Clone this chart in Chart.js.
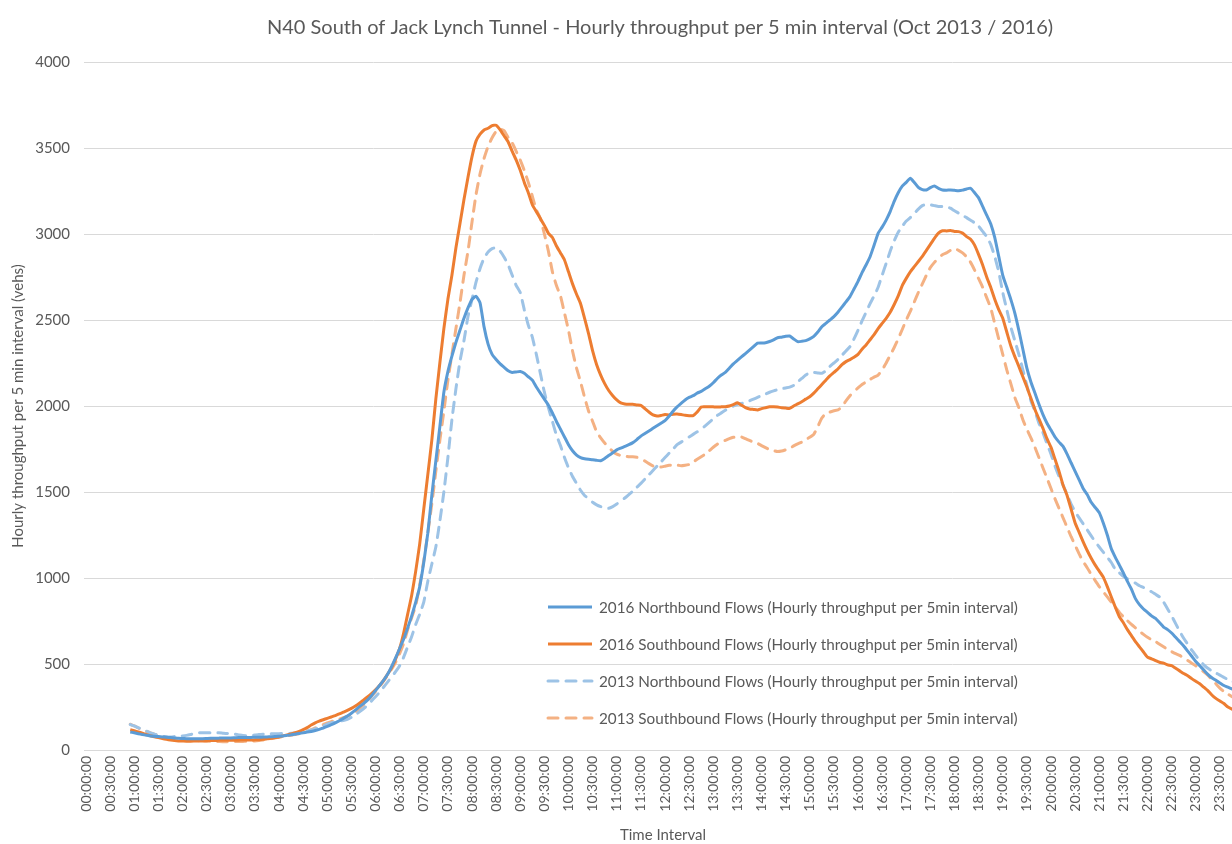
<!DOCTYPE html>
<html>
<head>
<meta charset="utf-8">
<script src="https://cdn.jsdelivr.net/npm/chart.js@4.4.1/dist/chart.umd.min.js"></script>
<style>
  html, body { margin: 0; padding: 0; overflow: hidden; background: #ffffff; }
  #wrap { position: relative; width: 1320px; height: 844px; }
</style>
</head>
<body>
<div id="wrap"><canvas id="c" width="1320" height="844"></canvas></div>
<script>
// ---- Data (hourly throughput per 5-min interval, vehs), 00:00 .. 23:55 ----
const timeLabels = [];
for (let m = 0; m < 24 * 60; m += 5) {
  const h = String(Math.floor(m / 60)).padStart(2, '0');
  const mm = String(m % 60).padStart(2, '0');
  timeLabels.push(h + ':' + mm + ':00');
}

const yTicks = [0, 500, 1000, 1500, 2000, 2500, 3000, 3500, 4000];

const chartTitle = 'N40 South of Jack Lynch Tunnel - Hourly throughput per 5 min interval (Oct 2013 / 2016)';

const north2016 = [
  null,null,null,null,null,null,null,null,null,null,null,105,
  100,95,90,86,82,80,78,76,74,72,70,68,
  67,66,65,65,66,66,67,68,68,69,70,70,
  70,71,72,72,73,73,74,74,75,76,77,78,
  80,82,85,88,92,96,100,104,108,113,120,128,
  137,147,158,170,184,198,214,232,252,270,290,315,
  345,375,405,440,485,535,590,645,710,780,860,950,
  1090,1260,1480,1680,1880,2080,2200,2290,2370,2440,2510,2570,
  2620,2638,2600,2460,2360,2300,2270,2245,2225,2205,2195,2198,
  2200,2190,2170,2150,2110,2075,2040,2005,1960,1910,1865,1820,
  1775,1740,1715,1700,1693,1690,1688,1684,1682,1695,1712,1728,
  1745,1755,1765,1775,1787,1805,1825,1840,1855,1870,1885,1900,
  1915,1940,1970,1995,2015,2035,2050,2060,2075,2085,2100,2115,
  2135,2160,2180,2195,2220,2245,2265,2285,2305,2325,2345,2365,
  2366,2368,2375,2385,2397,2400,2405,2407,2390,2374,2376,2380,
  2390,2405,2430,2461,2480,2500,2520,2545,2575,2605,2636,2680,
  2725,2775,2820,2868,2935,3004,3040,3081,3130,3190,3240,3278,
  3300,3324,3300,3271,3258,3256,3270,3279,3265,3256,3255,3256,
  3254,3252,3255,3262,3266,3240,3210,3160,3110,3060,2980,2870,
  2760,2690,2620,2540,2440,2330,2220,2140,2075,2010,1950,1900,
  1860,1820,1790,1765,1720,1670,1620,1570,1520,1485,1440,1410,
  1380,1320,1250,1170,1120,1075,1030,980,935,880,845,820,
  800,780,765,740,715,700,680,655,630,605,575,545,
  515,490,465,440,420,405,390,375,365,355,345,335
];

const south2016 = [
  null,null,null,null,null,null,null,null,null,null,null,118,
  112,105,98,90,83,77,72,67,62,58,55,53,
  52,51,51,52,53,54,54,55,55,56,56,56,
  57,57,57,58,58,58,59,60,62,65,68,72,
  76,82,88,94,100,108,118,130,145,158,168,176,
  184,192,200,210,220,230,242,256,272,290,308,328,
  350,375,405,440,480,530,590,680,790,900,1040,1200,
  1400,1600,1800,2040,2250,2450,2620,2760,2920,3060,3200,3330,
  3450,3540,3580,3605,3615,3630,3632,3605,3570,3535,3480,3430,
  3370,3300,3240,3170,3130,3090,3050,3004,2980,2930,2890,2849,
  2780,2710,2650,2595,2510,2420,2320,2240,2180,2130,2090,2060,
  2035,2018,2012,2010,2010,2006,2003,1985,1965,1948,1942,1945,
  1950,1948,1952,1953,1950,1946,1944,1944,1965,1994,1995,1996,
  1995,1994,1995,1996,2000,2008,2019,2005,1990,1983,1980,1977,
  1985,1990,1995,1996,1994,1990,1988,1986,2000,2012,2025,2040,
  2054,2075,2100,2125,2150,2175,2195,2215,2240,2258,2270,2283,
  2300,2330,2355,2385,2415,2450,2480,2510,2545,2590,2640,2700,
  2742,2780,2810,2840,2870,2905,2940,2975,3005,3019,3018,3020,
  3015,3014,3005,2985,2970,2935,2880,2820,2750,2690,2620,2560,
  2510,2430,2350,2287,2230,2170,2110,2045,1980,1925,1870,1810,
  1760,1690,1620,1540,1480,1400,1320,1265,1210,1160,1115,1075,
  1040,1005,950,890,830,775,740,700,665,630,600,570,
  540,530,520,510,505,495,490,475,460,445,432,415,
  400,385,365,345,320,300,285,270,250,238,228,220
];

const north2013 = [
  null,null,null,null,null,null,null,null,null,null,null,148,
  140,130,120,110,100,92,85,80,77,76,78,80,
  82,85,90,96,100,100,100,100,100,100,98,96,
  95,92,88,84,82,84,87,90,92,93,94,95,
  95,96,96,97,98,100,104,110,116,122,130,140,
  150,158,163,168,172,178,190,205,222,240,260,285,
  310,335,365,395,425,455,490,540,600,660,730,790,
  860,980,1080,1180,1330,1500,1700,1920,2100,2260,2380,2520,
  2620,2720,2800,2860,2895,2915,2920,2900,2865,2820,2760,2700,
  2660,2560,2470,2400,2300,2190,2080,1990,1910,1830,1770,1700,
  1640,1590,1550,1510,1480,1460,1440,1425,1415,1408,1405,1415,
  1430,1448,1465,1485,1505,1528,1550,1575,1600,1625,1650,1675,
  1700,1725,1750,1775,1790,1805,1820,1835,1850,1865,1885,1905,
  1925,1945,1960,1975,1990,2000,2010,2015,2020,2030,2040,2050,
  2060,2070,2080,2088,2095,2100,2105,2110,2120,2140,2160,2180,
  2194,2195,2192,2190,2205,2230,2250,2270,2295,2320,2345,2390,
  2440,2495,2545,2595,2640,2690,2760,2829,2900,2960,3010,3045,
  3075,3095,3120,3145,3165,3172,3170,3165,3160,3160,3158,3150,
  3135,3122,3108,3095,3080,3065,3045,3015,2985,2940,2870,2780,
  2660,2560,2460,2380,2300,2210,2120,2030,1970,1900,1845,1780,
  1720,1650,1590,1540,1485,1430,1385,1350,1315,1280,1245,1210,
  1180,1150,1120,1090,1050,1030,1010,995,980,970,955,945,
  930,920,905,890,860,820,780,735,690,650,615,580,
  550,520,495,475,460,448,435,422,410,400,390,380
];

const south2013 = [
  null,null,null,null,null,null,null,null,null,null,null,150,
  140,128,118,108,100,92,85,78,72,67,63,60,
  58,56,55,54,53,52,51,50,50,49,48,48,
  48,49,50,50,51,52,53,55,58,62,66,70,
  74,78,82,86,90,95,100,108,118,128,138,148,
  158,165,172,180,188,196,208,222,240,262,285,312,
  340,368,400,435,470,510,560,620,700,770,840,960,
  1100,1260,1430,1620,1800,1970,2150,2300,2450,2600,2760,2900,
  3070,3230,3350,3440,3510,3560,3597,3610,3600,3560,3530,3480,
  3430,3370,3300,3220,3140,3090,3000,2900,2780,2700,2640,2540,
  2440,2320,2220,2140,2050,1970,1910,1850,1815,1785,1760,1735,
  1720,1712,1708,1705,1705,1702,1695,1680,1665,1652,1647,1645,
  1650,1655,1657,1657,1652,1655,1660,1675,1690,1705,1720,1740,
  1760,1778,1793,1800,1810,1818,1822,1820,1810,1800,1790,1783,
  1770,1758,1747,1740,1735,1738,1745,1755,1768,1780,1790,1805,
  1818,1835,1880,1930,1957,1965,1972,1977,1995,2030,2060,2085,
  2105,2125,2140,2155,2168,2180,2210,2250,2295,2340,2390,2445,
  2500,2550,2605,2660,2710,2760,2805,2835,2860,2880,2890,2905,
  2916,2905,2890,2868,2835,2790,2740,2690,2630,2570,2480,2390,
  2300,2210,2130,2050,1990,1920,1865,1815,1760,1700,1640,1580,
  1520,1460,1405,1350,1295,1240,1190,1140,1095,1060,1020,985,
  950,920,890,860,830,800,775,752,730,710,690,672,
  655,642,630,615,600,585,572,560,550,535,520,505,
  490,472,455,435,410,385,360,340,325,310,300,290
];

const seriesNames = [
  '2016 Northbound Flows (Hourly throughput per 5min interval)',
  '2016 Southbound Flows (Hourly throughput per 5min interval)',
  '2013 Northbound Flows (Hourly throughput per 5min interval)',
  '2013 Southbound Flows (Hourly throughput per 5min interval)'
];

// ---- Styling ----
const TXT = '#595959';
const FONT = 'Lato, "Liberation Sans", sans-serif';

// Title centred over the full (uncropped) chart width
const titlePlugin = {
  id: 'wideTitle',
  afterDraw(chart) {
    const ctx = chart.ctx;
    ctx.save();
    ctx.font = '20px ' + FONT;
    ctx.fillStyle = TXT;
    ctx.textAlign = 'center';
    ctx.textBaseline = 'middle';
    ctx.fillText(chartTitle, chart.width / 2, 28);
    ctx.restore();
  }
};

const insideLegend = {
  id: 'insideLegend',
  afterDatasetsDraw(chart) {
    const ctx = chart.ctx;
    const x0 = 548, x1 = 592, tx = 599, y0 = 607, step = 37;
    ctx.save();
    ctx.font = '15.25px ' + FONT;
    ctx.fillStyle = TXT;
    ctx.textBaseline = 'middle';
    ctx.textAlign = 'left';
    chart.data.datasets.forEach((ds, k) => {
      const y = y0 + k * step;
      ctx.beginPath();
      ctx.strokeStyle = ds.borderColor;
      ctx.lineWidth = ds.borderWidth;
      ctx.setLineDash(ds.borderDash || []);
      ctx.lineCap = ds.borderCapStyle || 'butt';
      ctx.moveTo(x0, y);
      ctx.lineTo(x1, y);
      ctx.stroke();
      ctx.setLineDash([]);
      ctx.fillText(ds.label, tx, y + 1);
    });
    ctx.restore();
  }
};

function lineDs(label, data, color, dashed) {
  return {
    label, data,
    borderColor: color,
    backgroundColor: color,
    borderWidth: 3,
    borderDash: dashed ? [10, 8] : [],
    borderCapStyle: dashed ? 'round' : 'butt',
    borderJoinStyle: 'round',
    pointRadius: 0,
    tension: 0.15,
    fill: false
  };
}

new Chart(document.getElementById('c'), {
  type: 'line',
  data: {
    labels: timeLabels,
    datasets: [
      lineDs(seriesNames[0], north2016, '#5B9BD5', false),
      lineDs(seriesNames[1], south2016, '#ED7D31', false),
      lineDs(seriesNames[2], north2013, '#9DC3E6', true),
      lineDs(seriesNames[3], south2013, '#F4B183', true)
    ]
  },
  options: {
    responsive: false,
    devicePixelRatio: 1,
    animation: false,
    layout: { padding: { left: 0, right: 78, top: 62, bottom: 0 } },
    plugins: {
      legend: { display: false },
      tooltip: { enabled: false },
      title: { display: false }
    },
    scales: {
      x: {
        type: 'category',
        offset: true,
        grid: { display: false, drawTicks: false },
        border: { display: false },
        ticks: {
          autoSkip: false,
          maxRotation: 90,
          minRotation: 90,
          padding: 6,
          color: TXT,
          font: { family: FONT, size: 14 },
          callback: function (value, index) {
            return index % 6 === 0 ? this.getLabelForValue(value) : null;
          }
        },
        title: {
          display: true,
          text: 'Time Interval',
          color: TXT,
          font: { family: FONT, size: 15 },
          padding: { top: 0, bottom: 0 }
        },
        afterFit(scale) { scale.height = 94; }
      },
      y: {
        min: yTicks[0],
        max: yTicks[yTicks.length - 1],
        afterBuildTicks(scale) { scale.ticks = yTicks.map(v => ({ value: v })); },
        grid: { color: '#D9D9D9', lineWidth: 1, drawTicks: false },
        border: { display: false },
        ticks: {
          padding: 14,
          color: TXT,
          font: { family: FONT, size: 15 },
          callback: (v) => String(v)
        },
        title: {
          display: true,
          text: 'Hourly throughput per 5 min interval (vehs)',
          color: TXT,
          font: { family: FONT, size: 15 },
          padding: { top: 9, bottom: 0 }
        },
        afterFit(scale) { scale.width = 84; }
      }
    }
  },
  plugins: [insideLegend, titlePlugin]
});
</script>
</body>
</html>
